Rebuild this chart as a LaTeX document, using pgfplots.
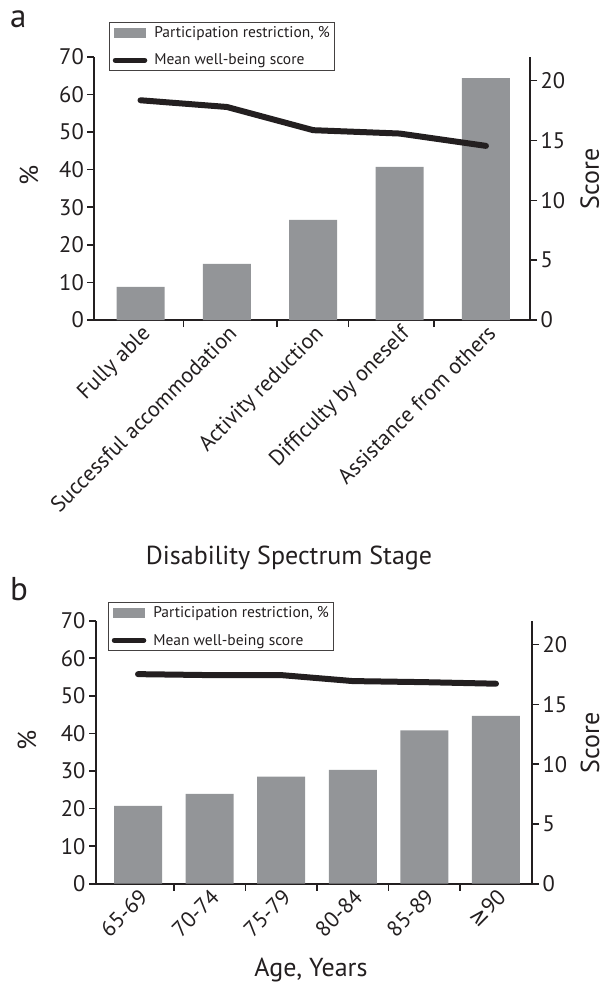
\documentclass[border=0pt]{standalone}
\usepackage{fontspec}
\setmainfont{PT Sans}
\newfontfamily\symfont{DejaVu Sans}
\usepackage{pgfplots}
\pgfplotsset{compat=1.18}
\definecolor{bargray}{RGB}{147,149,152}
\definecolor{ink}{RGB}{35,31,32}
\pgfplotsset{
  base/.style={
    scale only axis, width=435.7pt, height=263.3pt,
    /pgf/number format/assume math mode=true,
    axis line style={-, line width=1.8pt, draw=ink},
    tick style={line width=1.6pt, draw=ink},
    tick align=outside,
    major tick length=7pt,
    ticklabel style={font=\fontsize{22.5}{26}\selectfont, text=ink},
    label style={font=\fontsize{26}{30}\selectfont, text=ink},
    ymin=0,
  },
  barlegend/.style={legend image code/.code={\fill[bargray] (0pt,-5pt) rectangle (32pt,5pt); \path (37pt,0pt);}},
  linelegend/.style={legend image code/.code={\draw[line width=5pt, ink, line cap=round] (1.5pt,0pt) -- (31pt,0pt); \path (38pt,0pt);}},
  mylegend/.style={legend style={draw=ink!85, line width=1pt, font=\fontsize{15.5}{18}\selectfont, text=ink,
      inner xsep=3pt, inner ysep=2pt, row sep=11pt}, legend cell align=left},
  rotlab/.style={major tick length=0pt, xticklabel style={xshift=0pt, yshift=1pt, rotate=45, anchor=north east, font=\fontsize{22}{26}\selectfont}},
  scorelab/.style={ylabel style={at={(axis description cs:#1,0.535)}, anchor=center, inner sep=0pt, text depth=0pt}},
}
\begin{document}
\begin{tikzpicture}
\path[use as bounding box] (0pt,0pt) rectangle (604pt,-984pt);
% ---------- panel a ----------
\begin{axis}[base, at={(94.3pt,-320pt)}, anchor=south west,
  xmin=-0.535, xmax=4.51, ymax=70,
  axis x line*=bottom, axis y line*=left,
  ytick={0,10,...,70},
  xtick={0.5,1.577,2.41,3.4}, xticklabels={},
  extra x ticks={0,1,2,3,4},
  extra x tick labels={Fully able, Successful accommodation, Activity reduction, Difficulty by oneself, Assistance from others},
  extra x tick style={rotlab},
  ylabel={\%}, ylabel style={at={(axis description cs:-0.15,0.55)}, anchor=center},
  xlabel={Disability Spectrum Stage}, xlabel style={at={(axis description cs:0.447,-0.904)}, anchor=center},
  mylegend, legend style={at={(axis description cs:0.0344,1.132)}, anchor=north west},
]
\addplot[ybar, bar width=48pt, fill=bargray, draw=none, barlegend] coordinates {(0,8.8) (1,14.9) (2,26.6) (3,40.7) (4,64.3)};
\addlegendentry{Participation restriction, \%}
\addlegendimage{linelegend}
\addlegendentry{Mean well-being score}
\end{axis}
\begin{axis}[base, at={(94.3pt,-320pt)}, anchor=south west,
  xmin=-0.535, xmax=4.51, ymax=22,
  axis y line*=right, axis x line=none,
  ytick={0,5,...,20},
  ylabel={Score}, scorelab=1.137,
]
\addplot[ink, line width=6pt, line cap=round, line join=round] coordinates {(0,18.36) (1,17.8) (2,15.86) (3,15.58) (4,14.55)};
\end{axis}
\node[anchor=base west, font=\fontsize{33}{36}\selectfont, text=ink, inner sep=0pt] at (10pt,-28pt) {a};
% ---------- panel b ----------
\begin{axis}[base, at={(96pt,-883.7pt)}, anchor=south west, width=436pt, height=263pt,
  xmin=-0.587, xmax=5.503, ymax=70,
  axis x line*=bottom, axis y line*=left,
  ytick={0,10,...,70},
  xtick={0.5,1.5,2.5,3.5,4.5}, xticklabels={},
  extra x ticks={0,1,2,3,4,5},
  extra x tick labels={65-69, 70-74, 75-79, 80-84, 85-89, {{\symfont ≥}90}},
  extra x tick style={rotlab},
  ylabel={\%}, ylabel style={at={(axis description cs:-0.158,0.546)}, anchor=center},
  xlabel={Age, Years}, xlabel style={at={(axis description cs:0.493,-0.328)}, anchor=center},
  mylegend, legend style={at={(axis description cs:0.0282,1.071)}, anchor=north west},
]
\addplot[ybar, bar width=48pt, fill=bargray, draw=none, barlegend] coordinates {(0,20.7) (1,23.9) (2,28.5) (3,30.3) (4,40.8) (5,44.7)};
\addlegendentry{Participation restriction, \%}
\addlegendimage{linelegend}
\addlegendentry{Mean well-being score}
\end{axis}
\begin{axis}[base, at={(96pt,-883.7pt)}, anchor=south west, width=436pt, height=263pt,
  xmin=-0.587, xmax=5.503, ymax=22,
  axis y line*=right, axis x line=none,
  ytick={0,5,...,20},
  ylabel={Score}, scorelab=1.1325,
]
\addplot[ink, line width=6pt, line cap=round, line join=round] coordinates {(0,17.53) (1,17.45) (2,17.45) (3,16.95) (4,16.86) (5,16.73)};
\end{axis}
\node[anchor=base west, font=\fontsize{33}{36}\selectfont, text=ink, inner sep=0pt] at (10pt,-600.7pt) {b};
\end{tikzpicture}
\end{document}
